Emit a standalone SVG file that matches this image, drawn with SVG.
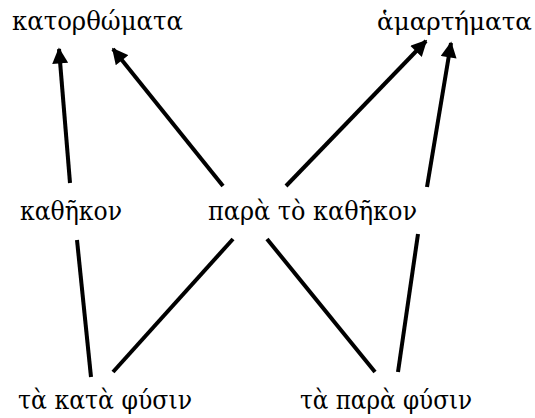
<svg xmlns="http://www.w3.org/2000/svg" width="535" height="418" viewBox="0 0 535 418">
<style>
text{font-family:"DejaVu Serif",serif;font-size:26px;fill:#000}
#hamartemata text{font-size:24.5px}
.c line{stroke:#000;stroke-width:4;stroke-linecap:butt}
</style>
<defs>
<marker id="ah" viewBox="0 0 10 10" refX="9" refY="5" markerWidth="4.2" markerHeight="4" orient="auto" markerUnits="strokeWidth">
<path d="M0,0 L10,5 L0,10 Z" fill="#000"/>
</marker>
</defs>
<rect width="535" height="418" fill="#fff"/>
<g class="c" id="connectors">
<line x1="70" y1="183" x2="59" y2="49" marker-end="url(#ah)"/>
<line x1="223" y1="186" x2="113" y2="49" marker-end="url(#ah)"/>
<line x1="286" y1="186" x2="426" y2="41" marker-end="url(#ah)"/>
<line x1="427" y1="187" x2="451" y2="43" marker-end="url(#ah)"/>
<line x1="91" y1="377" x2="77" y2="240"/>
<line x1="113" y1="372" x2="233" y2="239"/>
<line x1="375" y1="372" x2="267" y2="239"/>
<line x1="398" y1="372" x2="418" y2="234"/>
</g>
<g id="katorthomata"><text x="12" y="30" textLength="171" lengthAdjust="spacingAndGlyphs">κατορθώματα</text></g>
<g id="hamartemata"><text x="377" y="30" textLength="155" lengthAdjust="spacingAndGlyphs">ἁμαρτήματα</text></g>
<g id="kathekon"><text x="20" y="220" textLength="102" lengthAdjust="spacingAndGlyphs">καθῆκον</text></g>
<g id="para-to-kathekon"><text x="208" y="220" textLength="209" lengthAdjust="spacingAndGlyphs">παρὰ τὸ καθῆκον</text></g>
<g id="ta-kata-physin"><text x="18" y="409" textLength="174" lengthAdjust="spacingAndGlyphs">τὰ κατὰ φύσιν</text></g>
<g id="ta-para-physin"><text x="300" y="409" textLength="172" lengthAdjust="spacingAndGlyphs">τὰ παρὰ φύσιν</text></g>
</svg>
